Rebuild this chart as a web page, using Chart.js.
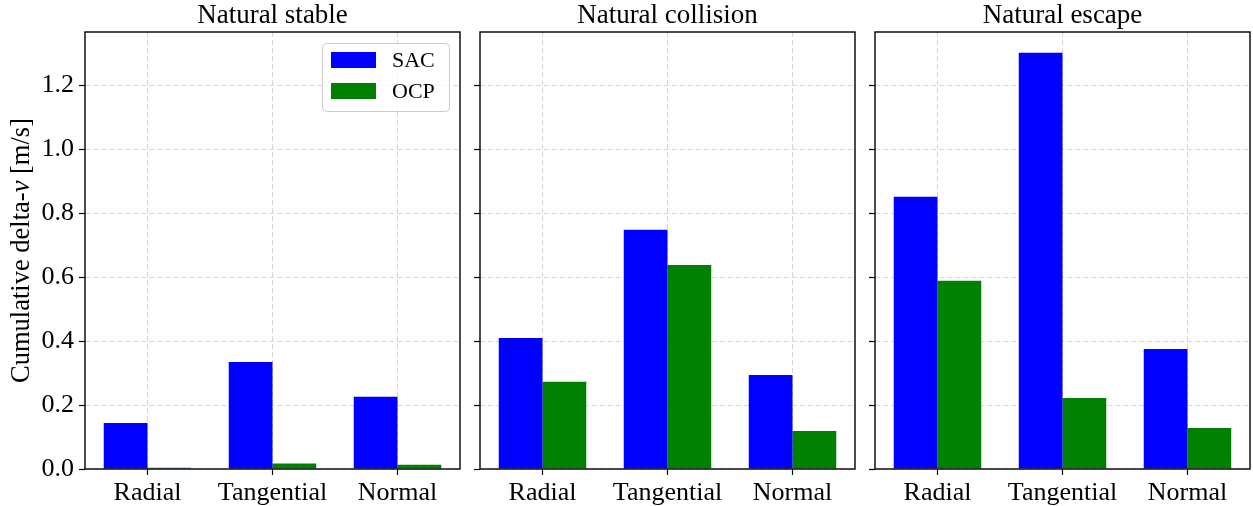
<!DOCTYPE html>
<html>
<head>
<meta charset="utf-8">
<script src="https://cdn.jsdelivr.net/npm/chart.js@4"></script>
<style>
  html, body { margin: 0; padding: 0; background: #ffffff; }
  #wrap { position: relative; width: 1253px; height: 506px; overflow: hidden; }
  canvas { position: absolute; top: 0; }
</style>
</head>
<body>
<div id="wrap">
  <canvas id="c1" width="470" height="506" style="left:0px"></canvas>
  <canvas id="c2" width="395" height="506" style="left:470px"></canvas>
  <canvas id="c3" width="388" height="506" style="left:865px"></canvas>
</div>
<script>
// Cumulative delta-v per thrust direction, one panel per natural dynamics case
const categories = ['Radial', 'Tangential', 'Normal'];
const panelTitles = ['Natural stable', 'Natural collision', 'Natural escape'];
const seriesNames = ['SAC', 'OCP'];

const sacStable    = [0.144, 0.335, 0.226];
const ocpStable    = [0.004, 0.017, 0.013];
const sacCollision = [0.410, 0.749, 0.294];
const ocpCollision = [0.273, 0.639, 0.119];
const sacEscape    = [0.852, 1.303, 0.376];
const ocpEscape    = [0.589, 0.222, 0.128];

const yTicks = [0.0, 0.2, 0.4, 0.6, 0.8, 1.0, 1.2];
const yMax = 1.368;

const FONT = "'Liberation Serif', 'Times New Roman', serif";
const TEXT = '#000000';
const SAC_COLOR = '#0000ff';
const OCP_COLOR = '#008000';
const GRID_COLOR = 'rgba(176,176,176,0.5)';

// Black box around the plotting area
const framePlugin = {
  id: 'frame',
  afterDraw(chart) {
    const a = chart.chartArea;
    const ctx = chart.ctx;
    ctx.save();
    ctx.strokeStyle = '#000';
    ctx.lineWidth = 1.4;
    ctx.strokeRect(a.left, a.top, a.right - a.left, a.bottom - a.top);
    ctx.restore();
  }
};

// Vertical axis title with an italic "v"
const yTitlePlugin = {
  id: 'yTitle',
  afterDraw(chart, args, opts) {
    if (!opts.show) return;
    const ctx = chart.ctx;
    const a = chart.chartArea;
    const parts = [
      { t: 'Cumulative delta-', f: `normal 26.5px ${FONT}` },
      { t: 'v', f: `italic 26.5px ${FONT}` },
      { t: ' [m/s]', f: `normal 26.5px ${FONT}` }
    ];
    ctx.save();
    let total = 0;
    parts.forEach(p => { ctx.font = p.f; p.w = ctx.measureText(p.t).width; total += p.w; });
    ctx.translate(opts.x, (a.top + a.bottom) / 2);
    ctx.rotate(-Math.PI / 2);
    ctx.fillStyle = TEXT;
    ctx.textBaseline = 'middle';
    ctx.textAlign = 'left';
    let x = -total / 2;
    parts.forEach(p => { ctx.font = p.f; ctx.fillText(p.t, x, 0); x += p.w; });
    ctx.restore();
  }
};

// Framed legend in the upper right corner of the plotting area
const boxLegendPlugin = {
  id: 'boxLegend',
  afterDraw(chart, args, opts) {
    if (!opts.show) return;
    const ctx = chart.ctx;
    const a = chart.chartArea;
    const w = 127, h = 68;
    const x0 = a.right - 11 - w;
    const y0 = a.top + 11;
    ctx.save();
    ctx.fillStyle = 'rgba(255,255,255,0.8)';
    ctx.strokeStyle = '#cccccc';
    ctx.lineWidth = 1;
    ctx.beginPath();
    ctx.roundRect(x0 + 0.5, y0 + 0.5, w, h, 4);
    ctx.fill();
    ctx.stroke();
    ctx.font = `normal 22px ${FONT}`;
    ctx.textBaseline = 'middle';
    ctx.textAlign = 'left';
    chart.data.datasets.forEach((ds, i) => {
      const cy = y0 + 17 + i * 31;
      ctx.fillStyle = ds.backgroundColor;
      ctx.fillRect(x0 + 9, cy - 8, 45, 16);
      ctx.fillStyle = TEXT;
      ctx.fillText(ds.label, x0 + 70, cy + 1);
    });
    ctx.restore();
  }
};

function makePanel(id, title, sac, ocp, cfg) {
  return new Chart(document.getElementById(id), {
    type: 'bar',
    data: {
      labels: categories,
      datasets: [
        { label: seriesNames[0], data: sac, backgroundColor: SAC_COLOR, borderWidth: 0,
          categoryPercentage: 0.7, barPercentage: 1.0 },
        { label: seriesNames[1], data: ocp, backgroundColor: OCP_COLOR, borderWidth: 0,
          categoryPercentage: 0.7, barPercentage: 1.0 }
      ]
    },
    options: {
      responsive: false,
      animation: false,
      devicePixelRatio: 1,
      layout: { padding: { left: 0, right: cfg.padRight, top: 0, bottom: 0 } },
      plugins: {
        legend: { display: false },
        tooltip: { enabled: false },
        title: {
          display: true,
          text: title,
          fullSize: false,
          color: TEXT,
          font: { family: FONT, size: 27, weight: 'normal', lineHeight: 1.1 },
          padding: { top: 1, bottom: 1.3 }
        },
        yTitle: { show: cfg.yTitle, x: 22 },
        boxLegend: { show: cfg.legend }
      },
      scales: {
        x: {
          type: 'category',
          offset: true,
          z: 1,
          afterFit: s => { s.height = 37; },
          border: { display: false, dash: [5, 3] },
          grid: {
            offset: false,
            color: GRID_COLOR,
            lineWidth: 1,
            drawTicks: true,
            tickLength: 6,
            tickColor: '#000',
            tickWidth: 1.2,
            tickBorderDash: []
          },
          ticks: {
            color: TEXT,
            padding: 3,
            maxRotation: 0,
            font: { family: FONT, size: 26 }
          }
        },
        y: {
          min: 0,
          max: yMax,
          z: 1,
          afterFit: s => { s.width = cfg.axisWidth; },
          afterBuildTicks: s => { s.ticks = yTicks.map(v => ({ value: v })); },
          border: { display: false, dash: [5, 3] },
          grid: {
            color: GRID_COLOR,
            lineWidth: 1,
            drawTicks: true,
            tickLength: 6,
            tickColor: '#000',
            tickWidth: 1.2,
            tickBorderDash: []
          },
          ticks: {
            display: cfg.showYLabels,
            color: TEXT,
            padding: 5,
            font: { family: FONT, size: 26 },
            callback: v => Number(v).toFixed(1)
          }
        }
      }
    },
    plugins: [framePlugin, yTitlePlugin, boxLegendPlugin]
  });
}

makePanel('c1', panelTitles[0], sacStable, ocpStable,
  { showYLabels: true, axisWidth: 85, padRight: 10, yTitle: true, legend: true });
makePanel('c2', panelTitles[1], sacCollision, ocpCollision,
  { showYLabels: false, axisWidth: 10, padRight: 10, yTitle: false, legend: false });
makePanel('c3', panelTitles[2], sacEscape, ocpEscape,
  { showYLabels: false, axisWidth: 10, padRight: 3, yTitle: false, legend: false });
</script>
</body>
</html>
